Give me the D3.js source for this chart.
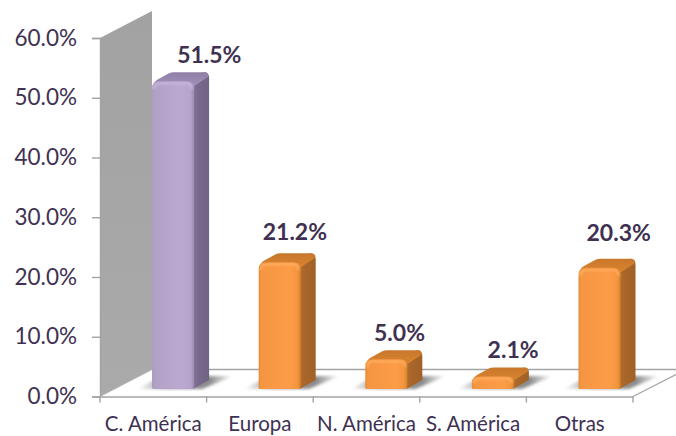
<!DOCTYPE html>
<html><head><meta charset="utf-8">
<script src="https://cdnjs.cloudflare.com/ajax/libs/d3/7.8.5/d3.min.js"></script>
<style>html,body{margin:0;padding:0;background:#fff}svg{display:block}text{font-family:Lato,"Open Sans",sans-serif}</style>
</head><body>
<svg id="c" width="676" height="436"></svg>
<script>
const categories = ["C. América","Europa","N. América","S. América","Otras"];
const values = [51.5,21.2,5.0,2.1,20.3];
const labels = ["51.5%","21.2%","5.0%","2.1%","20.3%"];
const tickValues = [0,10,20,30,40,50,60];
const highlightIndex = [0];
const labelDx = [56,35,33,40,39];
const labelDy = [18,22,18,18,27];

const depthX=52, depthY=27;
const svg=d3.select("#c");
const x=d3.scaleBand().domain(categories).range([100,633]);
const y=d3.scaleLinear().domain([0,60]).range([396.5,38]);
const defs=svg.append("defs");
function grad(id,stops,x2=1,y2=0){
  const g=defs.append("linearGradient").attr("id",id).attr("x1",0).attr("y1",0).attr("x2",x2).attr("y2",y2);
  stops.forEach(s=>g.append("stop").attr("offset",s[0]).attr("stop-color",s[1]));
}
grad("wall",[[0,"#a2a2a2"],[1,"#aaaaaa"]],0,1);
grad("fP",[[0,"#a594bb"],[.06,"#b1a1c6"],[.7,"#bba9d3"],[.92,"#b5a3cb"],[1,"#9d8cb0"]]);
grad("fO",[[0,"#e58a35"],[.06,"#f59643"],[.75,"#fd9c47"],[.92,"#f49540"],[1,"#d98232"]]);
grad("sP",[[0,"#84749a"],[.3,"#786a8c"],[1,"#6f6283"]]);
grad("sO",[[0,"#b66f2a"],[.3,"#a9662a"],[1,"#a06026"]]);
grad("tP",[[0,"#8f7fa6"],[1,"#a391b8"]],0,1);
grad("tO",[[0,"#c8772b"],[1,"#d9852f"]],0,1);
grad("shadow",[[0,"#ffffff"],[.3,"#9a9a9a"],[.75,"#8a8a8a"],[1,"#ffffff"]]);
defs.append("filter").attr("id","blur").append("feGaussianBlur").attr("stdDeviation",1.4);
defs.append("filter").attr("id","soft").append("feGaussianBlur").attr("stdDeviation",1);

const floorBack=y(0)-depthY, axisCol="#a3a3a3";
const left=x.range()[0], right=x.range()[1];
svg.append("path").attr("fill","url(#wall)")
  .attr("d",`M${left},${y(60)}L${left+depthX},${y(60)-depthY}L${left+depthX},${floorBack}L${left},${y(0)}Z`);
svg.append("line").attr("x1",left+depthX).attr("x2",676).attr("y1",floorBack).attr("y2",floorBack).attr("stroke",axisCol).attr("stroke-width",1.6);
svg.append("line").attr("x1",right).attr("y1",y(0)).attr("x2",676).attr("y2",y(0)-22).attr("stroke",axisCol).attr("stroke-width",1.2);
svg.append("line").attr("x1",left).attr("y1",y(0)).attr("x2",left+depthX).attr("y2",floorBack).attr("stroke","#b5b5b5").attr("stroke-width",1);

const barW=42, sideW=15, sideH=9, baseLift=7.5;
const g=svg.append("g");
categories.forEach((c,i)=>{
  const cx=x(c)+x.bandwidth()/2;
  const x0=cx-1.2, x1=x0+barW;
  const yb=y(0)-baseLift, yt=yb-(y(0)-y(values[i]));
  const h=yb-yt, r=Math.min(8,h*0.55);
  const k=highlightIndex.includes(i)?"P":"O";
  const b=g.append("g");
  b.append("path").attr("fill","url(#shadow)").attr("filter","url(#blur)")
    .attr("d",`M${x0-15},${yb}L${x1+8},${yb}L${x1+sideW+24},${yb-13}L${x0+10},${yb-13}Z`);
  b.append("path").attr("fill",`url(#s${k})`)
    .attr("d",`M${x1-1},${yt+r*0.4}Q${x1+2},${yt-1} ${x1+5},${yt-sideH+2}L${x1+sideW-5},${yt-sideH}Q${x1+sideW},${yt-sideH} ${x1+sideW},${yt-sideH+r*0.7}L${x1+sideW},${yb-sideH}L${x1-1},${yb}Z`);
  b.append("path").attr("fill",`url(#t${k})`)
    .attr("d",`M${x0},${yt+r*0.7}Q${x0+1},${yt+1} ${x0+6},${yt-2}L${x0+sideW+2},${yt-sideH+1}Q${x0+sideW+4},${yt-sideH} ${x0+sideW+7},${yt-sideH}L${x1+sideW-5},${yt-sideH}Q${x1+sideW},${yt-sideH} ${x1+sideW-1},${yt-sideH+r*0.6}L${x1},${yt+r*0.6}Z`);
  b.append("path").attr("fill",`url(#f${k})`)
    .attr("d",`M${x0},${yb-1}L${x0},${yt+r}Q${x0},${yt} ${x0+r},${yt}L${x1-r},${yt}Q${x1},${yt} ${x1},${yt+r}L${x1},${yb-3}Q${x1},${yb} ${x1-3},${yb}L${x0+1},${yb}Z`);
  b.append("path").attr("fill","none").attr("stroke",k=="P"?"#c9b9de":"#ffb163").attr("stroke-width",2).attr("filter","url(#soft)")
    .attr("d",`M${x0+2},${yt+r}Q${x0+2},${yt+2} ${x0+r},${yt+2}L${x1-r},${yt+2}Q${x1-2},${yt+2} ${x1-2},${yt+r}`);
  svg.append("text").attr("x",cx+labelDx[i]).attr("y",yt-labelDy[i])
    .attr("text-anchor","middle").attr("font-size",23).attr("font-weight",700).attr("fill","#3f3151").text(labels[i]);
});

const ax=svg.append("g").attr("transform",`translate(${left},0)`)
  .call(d3.axisLeft(y).tickValues(tickValues).tickSize(8).tickPadding(15).tickFormat(d=>d.toFixed(1)+"%"));
ax.selectAll("path").attr("stroke",axisCol).attr("stroke-width",1.4);
ax.selectAll("line").attr("stroke",axisCol).attr("stroke-width",1.4);
ax.selectAll("text").attr("fill","#403152").attr("font-size",22.5).style("font-family","Lato,'Open Sans',sans-serif");

const bx=svg.append("g").attr("transform",`translate(0,${y(0)})`)
  .call(d3.axisBottom(x).tickSize(0).tickPadding(20));
bx.select("path").attr("stroke",axisCol).attr("stroke-width",1.6);
bx.selectAll("text").attr("fill","#403152").attr("font-size",20.5).style("font-family","Lato,'Open Sans',sans-serif");
const boundaries=categories.map(c=>x(c)).concat([right]);
bx.selectAll(".bt").data(boundaries).join("line").attr("class","bt")
  .attr("x1",d=>d).attr("x2",d=>d).attr("y1",0).attr("y2",6).attr("stroke",axisCol).attr("stroke-width",1.4);
</script>
</body></html>
